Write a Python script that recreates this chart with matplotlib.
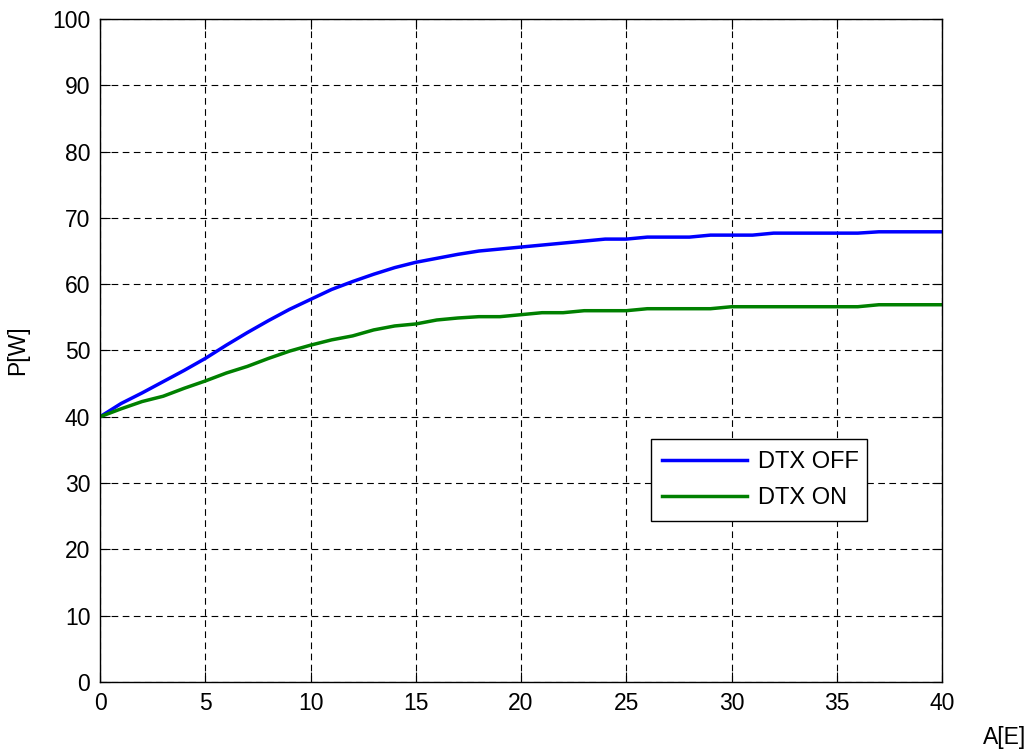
import matplotlib.pyplot as plt

plt.rcParams['font.family'] = ['Liberation Sans', 'DejaVu Sans']

# ===================== Data =====================
load = list(range(0, 41))
p_dtx_off = [40.0, 42.0, 43.6, 45.3, 47.0, 48.8, 50.8, 52.7, 54.5, 56.2,
             57.7, 59.2, 60.4, 61.5, 62.5, 63.3, 63.9, 64.5, 65.0, 65.3,
             65.6, 65.9, 66.2, 66.5, 66.8, 66.8, 67.1, 67.1, 67.1, 67.4,
             67.4, 67.4, 67.7, 67.7, 67.7, 67.7, 67.7, 67.9, 67.9, 67.9, 67.9]
p_dtx_on = [40.0, 41.2, 42.3, 43.1, 44.3, 45.4, 46.6, 47.6, 48.8, 49.9,
            50.8, 51.6, 52.2, 53.1, 53.7, 54.0, 54.6, 54.9, 55.1, 55.1,
            55.4, 55.7, 55.7, 56.0, 56.0, 56.0, 56.3, 56.3, 56.3, 56.3,
            56.6, 56.6, 56.6, 56.6, 56.6, 56.6, 56.6, 56.9, 56.9, 56.9, 56.9]
series_labels = ['DTX OFF', 'DTX ON']

# ===================== Plot =====================
fig = plt.figure(figsize=(10.31, 7.53), dpi=100)
ax = fig.add_axes([0.097, 0.0943, 0.8167, 0.8805])

ax.plot(load, p_dtx_off, color='#0000ff', lw=2.5, label=series_labels[0])
ax.plot(load, p_dtx_on, color='#008000', lw=2.5, label=series_labels[1])

ax.set_xlim(0, 40)
ax.set_ylim(0, 100)
ax.set_xticks(range(0, 41, 5))
ax.set_yticks(range(0, 101, 10))
ax.grid(True, color='black', linestyle=(0, (6, 4)), linewidth=0.8)
ax.tick_params(direction='in', top=True, right=True, labelsize=16.5, length=7, pad=7)
for s in ax.spines.values():
    s.set_linewidth(1.0)

ax.set_ylabel('P[W]', fontsize=16.5)
ax.yaxis.set_label_coords(-0.084, 0.5)
fig.text(0.995, 0.021, 'A[E]', fontsize=16.5, ha='right', va='center')

leg = ax.legend(loc='lower left', bbox_to_anchor=(0.654, 0.243, 0.257, 0.122),
                mode='expand', fontsize=17, fancybox=False, framealpha=1,
                edgecolor='black', borderaxespad=0, handlelength=3.6,
                handletextpad=0.45, labelspacing=0.6, borderpad=0.5)
leg.get_frame().set_linewidth(1.0)

fig.savefig('out.png', dpi=100)
